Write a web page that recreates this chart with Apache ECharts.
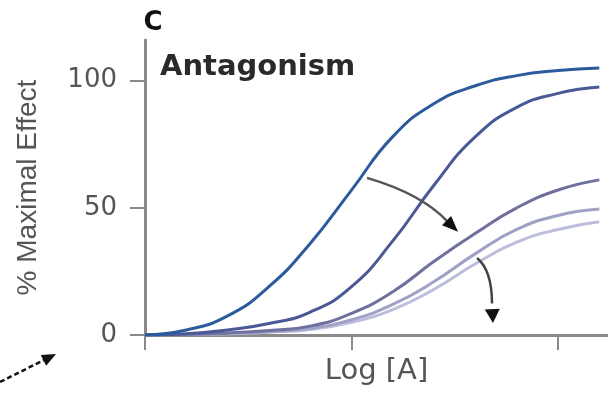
<!DOCTYPE html>
<html>
<head>
<meta charset="utf-8">
<script src="https://cdn.jsdelivr.net/npm/echarts@6/dist/echarts.min.js"></script>
<style>
html,body{margin:0;padding:0;background:#fff;}
#main{width:608px;height:398px;}
</style>
</head>
<body>
<div id="main"></div>
<script>
// ---- data ----
const logA = [0, 0.2, 0.4, 0.6, 0.8, 1.0, 1.2, 1.4, 1.6, 1.8, 2.0, 2.2];
const agonistAlone = [0, 2, 7.5, 19, 36, 57, 78, 91, 98, 102, 104, 105];
const antagonist1 = [0, 0.5, 2, 4.5, 9, 19, 37, 59, 78, 89.5, 95, 97.5];
const antagonist2 = [0, 0.3, 0.8, 1.8, 3.5, 8.5, 17, 29, 40, 50, 57, 61];
const antagonist3 = [0, 0.2, 0.6, 1.3, 2.6, 6, 12, 21, 32, 41.5, 47, 49.5];
const antagonist4 = [0, 0.2, 0.5, 1.1, 2.2, 5, 10, 18, 28, 36.5, 41.5, 44.5];
const yTicks = [0, 50, 100];
const xTicks = [0, 1, 2];
const panelLetter = 'C';
const panelTitle = 'Antagonism';
const xName = 'Log [A]';
const yName = '% Maximal Effect';
// annotation arrows in data coordinates: start, control, tip
const arrowShift = [[1.075, 61.8], [1.34, 55.5], [1.516, 40.6]];
const arrowDepress = [[1.608, 30.3], [1.68, 25.5], [1.685, 4.7]];

const seriesList = [
  {name: 'A', data: agonistAlone, color: '#2c5a9c', w: 3},
  {name: 'A+B1', data: antagonist1, color: '#4a5896', w: 3},
  {name: 'A+B2', data: antagonist2, color: '#6f709e', w: 3},
  {name: 'A+B3', data: antagonist3, color: '#9fa1c6', w: 3},
  {name: 'A+B4', data: antagonist4, color: '#bcbedb', w: 3}
];

const chart = echarts.init(document.getElementById('main'), null, {renderer: 'canvas'});
const axisGray = '#8a8a8a';
const textGray = '#555555';

chart.setOption({
  animation: false,
  backgroundColor: '#ffffff',
  grid: {left: 145, top: 40, right: 0, bottom: 63},
  xAxis: {
    type: 'value', min: 0, max: 2.242,
    name: xName, nameLocation: 'middle', nameGap: 22,
    nameTextStyle: {fontFamily: 'DejaVu Sans', fontSize: 29, color: textGray},
    axisLine: {show: true, onZero: false, lineStyle: {color: axisGray, width: 3}},
    axisTick: {show: true, length: 15, customValues: xTicks, lineStyle: {color: axisGray, width: 2}},
    axisLabel: {show: false},
    splitLine: {show: false}
  },
  yAxis: {
    type: 'value', min: 0, max: 116,
    name: yName, nameLocation: 'middle', nameGap: 103, nameRotate: 90,
    nameTextStyle: {fontFamily: 'Liberation Sans', fontSize: 28, color: textGray},
    axisLine: {show: true, lineStyle: {color: axisGray, width: 3}},
    axisTick: {show: true, length: 15, customValues: yTicks, lineStyle: {color: axisGray, width: 2}},
    axisLabel: {customValues: yTicks, margin: 28, fontFamily: 'DejaVu Sans', fontSize: 26, color: textGray},
    splitLine: {show: false}
  },
  series: seriesList.map(s => ({
    name: s.name, type: 'line', smooth: 0.5, showSymbol: false, symbol: 'none',
    data: logA.map((x, i) => [x, s.data[i]]),
    lineStyle: {color: s.color, width: s.w},
    z: 2
  })).reverse()
});

function head(tip, from, len, wid, color) {
  const dx = tip[0] - from[0], dy = tip[1] - from[1];
  const d = Math.hypot(dx, dy) || 1;
  const ux = dx / d, uy = dy / d;
  const bx = tip[0] - ux * len, by = tip[1] - uy * len;
  return {
    type: 'polygon', z: 20,
    shape: {points: [tip, [bx - uy * wid / 2, by + ux * wid / 2], [bx + uy * wid / 2, by - ux * wid / 2]]},
    style: {fill: color}
  };
}
function toPx(p) { return chart.convertToPixel({gridIndex: 0}, p); }

const a1 = arrowShift.map(toPx);
const a2 = arrowDepress.map(toPx);
function qpt(p, t) {
  return [(1 - t) * (1 - t) * p[0][0] + 2 * (1 - t) * t * p[1][0] + t * t * p[2][0],
          (1 - t) * (1 - t) * p[0][1] + 2 * (1 - t) * t * p[1][1] + t * t * p[2][1]];
}
const a1end = qpt(a1, 0.86), a2end = qpt(a2, 0.8);

chart.setOption({
  graphic: [
    {type: 'text', z: 20, style: {text: panelLetter, x: 153, y: 23, align: 'center', verticalAlign: 'middle',
      font: 'bold 26px "DejaVu Sans"', fill: '#111'}},
    {type: 'text', z: 20, style: {text: panelTitle, x: 160, y: 67, align: 'left', verticalAlign: 'middle',
      font: 'bold 29px "DejaVu Sans"', fill: '#2a2a2a'}},
    {type: 'bezierCurve', z: 19, shape: {x1: a1[0][0], y1: a1[0][1], cpx1: a1[1][0], cpy1: a1[1][1], x2: a1end[0], y2: a1end[1]},
      style: {stroke: '#555', lineWidth: 2.5, fill: null}},
    head(a1[2], a1end, 16, 13, '#111'),
    {type: 'bezierCurve', z: 19, shape: {x1: a2[0][0], y1: a2[0][1], cpx1: a2[1][0], cpy1: a2[1][1], x2: a2end[0], y2: a2end[1]},
      style: {stroke: '#444', lineWidth: 2.5, fill: null}},
    head(a2[2], a2end, 14, 15, '#111'),
    {type: 'line', z: 19, shape: {x1: 0, y1: 382, x2: 46, y2: 359},
      style: {stroke: '#111', lineWidth: 2.5, lineDash: [5, 3]}},
    head([56, 354], [46, 359], 14, 12, '#111')
  ]
});
</script>
</body>
</html>
